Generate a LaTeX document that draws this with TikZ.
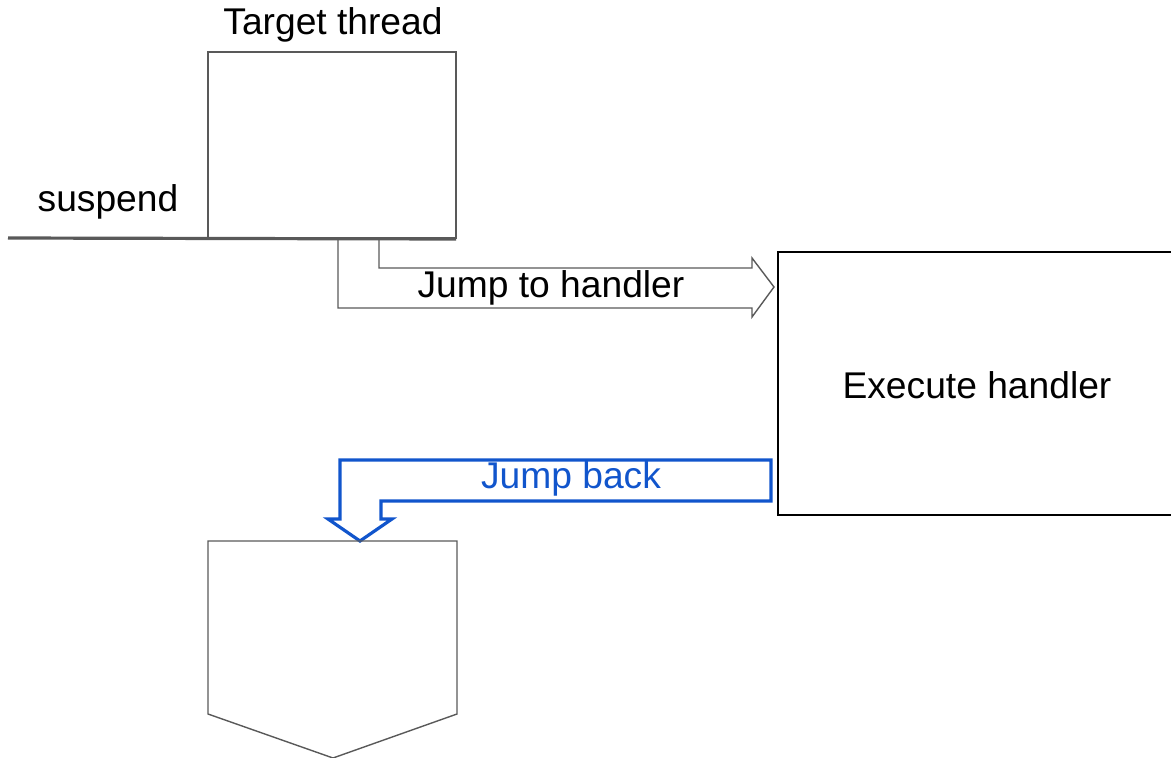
\documentclass[tikz,border=0pt]{standalone}
\usepackage{fontspec}
\setmainfont{Liberation Sans}
\definecolor{linegray}{HTML}{595959}
\definecolor{gblue}{HTML}{1155CC}
\begin{document}
\begin{tikzpicture}[x=1pt,y=-1pt,
  txt/.style={font=\fontsize{37.2}{43}\selectfont, inner sep=0pt, anchor=center},
  thread/.style={draw=linegray, line width=1.4pt, minimum width=248pt, minimum height=186pt, inner sep=0pt},
  handler/.style={draw=black, line width=1.6pt, inner sep=0pt},
  grayarrow/.style={draw=linegray, line width=1.4pt, line join=miter},
  bluearrow/.style={draw=gblue, line width=3.2pt, line join=miter},
  suspendline/.style={draw=linegray, line width=3.2pt}]
\useasboundingbox (0,0) rectangle (1171,758);
% target thread box
\node[thread] (tt) at (332,145) {};
\node[txt] (ttlabel) at (333,25) {Target thread};
\node[txt] (susp) at (108,202) {suspend};
% suspend line
\coordinate (sl) at (8,238);
\coordinate (sr) at (456,239);
\draw[suspendline] (sl) -- (sr);
% execute handler box
\coordinate (hA) at (778,252);
\coordinate (hB) at (1180,515);
\draw[handler] (hA) rectangle (hB);
\node[txt] (hlabel) at (977,385) {Execute handler};
% jump to handler bent arrow
\draw[grayarrow] (379,239) -- (379,268) -- (752,268) -- (752,258) -- (774,287)
  -- (752,317) -- (752,308) -- (338,308) -- (338,239);
\node[txt] (jth) at (551,288) {Jump to handler};
% jump back bent arrow
\draw[bluearrow] (771,460) -- (340,460) -- (340,519) -- (328,519) -- (360,541)
  -- (392,519) -- (381,519) -- (381,501) -- (771,501) -- cycle;
\node[txt, text=gblue] (jb) at (571,479) {Jump back};
% resumed thread (pentagon)
\coordinate (p1) at (208,541);
\coordinate (p2) at (457,541);
\coordinate (p3) at (457,714);
\coordinate (p4) at (333,758);
\coordinate (p5) at (208,714);
\draw[grayarrow] (p1) -- (p2) -- (p3) -- (p4) -- (p5) -- cycle;
\end{tikzpicture}
\end{document}
